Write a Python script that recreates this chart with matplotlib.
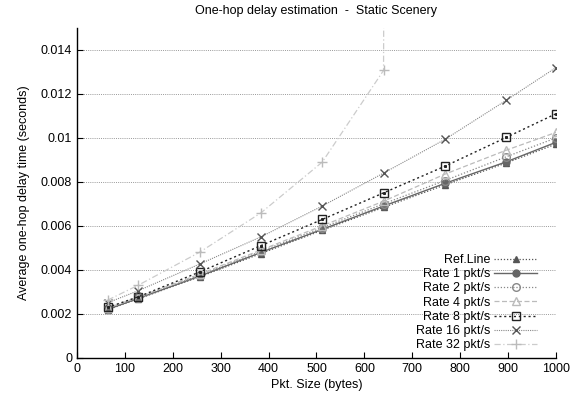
import matplotlib
matplotlib.use("Agg")
import matplotlib.pyplot as plt
from matplotlib.ticker import FuncFormatter

plt.rcParams['font.family'] = ['Liberation Sans', 'DejaVu Sans']
plt.rcParams['font.size'] = 9

# packet sizes (bytes)
sizes = [64, 128, 256, 384, 512, 640, 768, 896, 1000]

# average one-hop delay (seconds)
ref_line = [0.00218, 0.00268, 0.00368, 0.00474, 0.00580, 0.00684, 0.00786, 0.00886, 0.00972]
rate1 = [0.00220, 0.00270, 0.00371, 0.00479, 0.00584, 0.00690, 0.00793, 0.00891, 0.00980]
rate2 = [0.00222, 0.00272, 0.00375, 0.00484, 0.00592, 0.00700, 0.00806, 0.00914, 0.01000]
rate4 = [0.00226, 0.00276, 0.00380, 0.00490, 0.00600, 0.00712, 0.00835, 0.00944, 0.01025]
rate8 = [0.00229, 0.00277, 0.00390, 0.00510, 0.00629, 0.00750, 0.00871, 0.01002, 0.01110]
rate16 = [0.00250, 0.00305, 0.00426, 0.00550, 0.00690, 0.00840, 0.00993, 0.01171, 0.01320]
rate32 = [0.00262, 0.00330, 0.00480, 0.00659, 0.00890, 0.01307, 0.9, 1.6, 2.2]

labels = ["Ref.Line", "Rate 1 pkt/s", "Rate 2 pkt/s", "Rate 4 pkt/s",
          "Rate 8 pkt/s", "Rate 16 pkt/s", "Rate 32 pkt/s"]

fig = plt.figure(figsize=(5.72, 3.94), dpi=100)
ax = fig.add_axes([0.1346, 0.0921, 0.8374, 0.8368])

for y in [0.002, 0.004, 0.006, 0.008, 0.010, 0.012, 0.014]:
    ax.axhline(y, color='#999999', lw=0.7, ls=(0, (1, 1.2)), zorder=0)

ax.plot(sizes, ref_line, color='#555555', ls=(0, (1, 1.5)), lw=0.9,
        marker='^', ms=4, mfc='#555555', mec='#555555', label=labels[0])
ax.plot(sizes, rate1, color='#666666', ls='-', lw=1.0,
        marker='o', ms=5, mfc='#666666', mec='#666666', label=labels[1])
ax.plot(sizes, rate2, color='#888888', ls=(0, (1, 1.5)), lw=0.9,
        marker='o', ms=5.5, mfc='none', mec='#888888', label=labels[2])
ax.plot(sizes, rate4, color='#bbbbbb', ls=(0, (4, 2)), lw=0.9,
        marker='^', ms=6, mfc='none', mec='#bbbbbb', label=labels[3])
ax.plot(sizes, rate8, color='#222222', ls=(0, (1.5, 2)), lw=1.0,
        marker='s', ms=6, mfc='none', mec='#222222', label=labels[4])
# centre dot of the gnuplot box point
ax.plot(sizes, rate8, ls='none', marker='s', ms=1.2, mfc='#222222', mec='#222222')
ax.plot(sizes, rate16, color='#888888', ls=(0, (1, 1)), lw=0.8,
        marker='x', ms=6, mec='#555555', label=labels[5])
ax.plot(sizes, rate32, color='#cccccc', ls=(0, (5, 2, 1, 2)), lw=0.9,
        marker='+', ms=7, mec='#bbbbbb', label=labels[6])

ax.set_xlim(0, 1000)
ax.set_ylim(0, 0.015)
ax.set_xticks(range(0, 1001, 100))
ax.set_yticks([0, 0.002, 0.004, 0.006, 0.008, 0.010, 0.012, 0.014])
ax.yaxis.set_major_formatter(FuncFormatter(lambda v, p: '%g' % v))
ax.tick_params(direction='in', length=4, width=0.8, top=False, right=False)
ax.spines['top'].set_visible(False)
ax.spines['right'].set_visible(False)
ax.spines['left'].set_linewidth(1.0)
ax.spines['bottom'].set_linewidth(1.0)

ax.set_xlabel('Pkt. Size (bytes)', labelpad=3)
ax.set_ylabel('Average one-hop delay time (seconds)', labelpad=8)
ax.set_title('One-hop delay estimation  -  Static Scenery', fontsize=9, pad=10)

ax.legend(loc='lower right', bbox_to_anchor=(0.973, 0.0), frameon=False,
          markerfirst=False, borderpad=0, labelspacing=0.18, handlelength=3.4,
          handletextpad=0.3, fontsize=9)

fig.savefig('out.png', dpi=100)
